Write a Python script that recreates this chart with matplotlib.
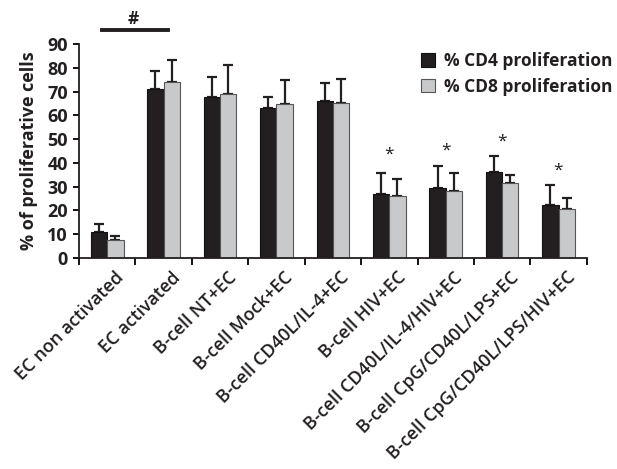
import numpy as np
import matplotlib.pyplot as plt

categories = ['EC non activated', 'EC activated', 'B-cell NT+EC', 'B-cell Mock+EC',
              'B-cell CD40L/IL-4+EC', 'B-cell HIV+EC', 'B-cell CD40L/IL-4/HIV+EC',
              'B-cell CpG/CD40L/LPS+EC', 'B-cell CpG/CD40L/LPS/HIV+EC']
cd4 = [10.9, 71.2, 67.8, 62.9, 66.0, 26.9, 29.4, 36.1, 22.4]
cd4_err = [3.5, 7.5, 8.5, 4.7, 7.5, 8.6, 9.4, 6.6, 8.3]
cd8 = [7.4, 74.0, 68.9, 64.6, 65.3, 26.2, 27.9, 31.4, 20.5]
cd8_err = [1.8, 9.5, 12.1, 10.4, 9.9, 6.8, 7.7, 3.5, 4.5]
star_idx = [5, 6, 7, 8]
star_y = [43.4, 45.2, 48.7, 36.8]

plt.rcParams['font.family'] = ['Open Sans', 'DejaVu Sans']
plt.rcParams['font.weight'] = 'bold'

fig = plt.figure(figsize=(6.17, 4.69), dpi=100)
ax = fig.add_axes([0.128, 0.4505, 0.823, 0.4555])

x = np.arange(len(categories))
w = 0.29
ax.bar(x - w/2, cd4, w, color='#231f20', edgecolor='#111111', linewidth=0.8,
       label='% CD4 proliferation', zorder=2)
ax.bar(x + w/2, cd8, w, color='#c8c9ca', edgecolor='#555555', linewidth=0.8,
       label='% CD8 proliferation', zorder=2)
# only the upper half of the error bars
ax.errorbar(x - w/2, cd4, yerr=[np.zeros(len(cd4)), cd4_err], fmt='none',
            ecolor='#231f20', elinewidth=1.6, capsize=3.5, capthick=1.6, zorder=1)
ax.errorbar(x + w/2, cd8, yerr=[np.zeros(len(cd8)), cd8_err], fmt='none',
            ecolor='#231f20', elinewidth=1.6, capsize=3.5, capthick=1.6, zorder=1)

for i, yy in zip(star_idx, star_y):
    ax.text(i, yy, '*', ha='center', va='center', fontsize=12.5, fontweight='normal',
            color='#231f20')

# significance bar between the two EC groups
ax.plot([-0.1, 1.07], [96, 96], color='#231f20', lw=2.8, clip_on=False)
ax.text(0.47, 100.5, '#', ha='center', va='center', fontsize=12.5, clip_on=False,
        color='#231f20')

ax.set_xlim(-0.5, len(categories) - 0.5)
ax.set_ylim(0, 90)
ax.set_yticks(range(0, 91, 10))
ax.tick_params(axis='y', labelsize=13, length=4, width=1.3, direction='out',
               labelcolor='#231f20', pad=4)
ax.set_xticks(np.arange(-0.5, len(categories), 1.0))
ax.set_xticklabels([])
ax.tick_params(axis='x', length=5, width=1.3, direction='out')
for i, c in enumerate(categories):
    ax.text(i + 0.13, -4.5, c, rotation=45, ha='right', va='top',
            rotation_mode='anchor', fontsize=13, fontweight='semibold',
            color='#231f20')

ax.set_ylabel('% of proliferative cells', fontsize=13, fontweight='bold', labelpad=7,
              color='#231f20')
for s in ['top', 'right']:
    ax.spines[s].set_visible(False)
for s in ['left', 'bottom']:
    ax.spines[s].set_linewidth(1.3)
    ax.spines[s].set_color('#231f20')

leg = ax.legend(loc='upper left', bbox_to_anchor=(0.65, 1.02), frameon=False,
                fontsize=12.5, handlelength=0.8, handleheight=0.8, handletextpad=0.5,
                labelspacing=0.45, borderaxespad=0.3)
for t in leg.get_texts():
    t.set_color('#231f20')

fig.savefig('out.png', dpi=100)
